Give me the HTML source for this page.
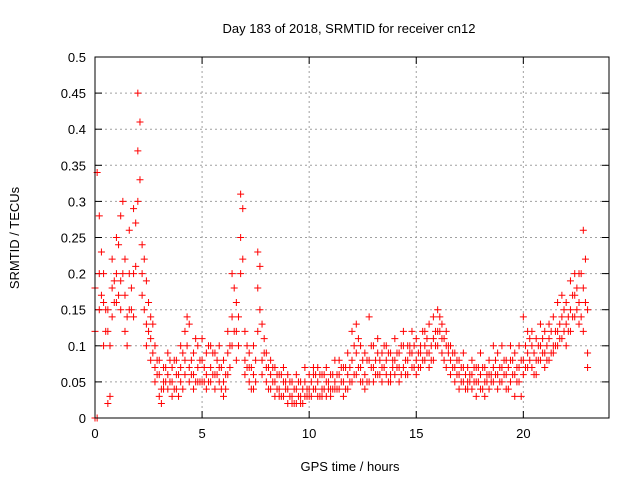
<!DOCTYPE html>
<html><head><meta charset="utf-8"><style>
body{margin:0;background:#fff;}
svg text{font-family:"Liberation Sans",sans-serif;font-size:13px;fill:#000;}
</style></head><body>
<svg id="chart" width="640" height="480" xmlns="http://www.w3.org/2000/svg">
<rect width="640" height="480" fill="#fff"/>
<text x="349" y="33" text-anchor="middle">Day 183 of 2018, SRMTID for receiver cn12</text>
<text transform="translate(19,238) rotate(-90)" text-anchor="middle">SRMTID / TECUs</text>
<text x="350" y="471" text-anchor="middle">GPS time / hours</text>
<g id="grid"></g>
<g id="ticks"></g>
<g id="marks"></g>
<rect x="95" y="57" width="514" height="361" fill="none" stroke="#000" stroke-width="1"/>
</svg>
<script>
const xTicks=[0,5,10,15,20];
const yTicks=[0,0.05,0.1,0.15,0.2,0.25,0.3,0.35,0.4,0.45,0.5];
const yTickLabels=["0","0.05","0.1","0.15","0.2","0.25","0.3","0.35","0.4","0.45","0.5"];
const times=[0,0.2,0.4,0.6,0.8,1,1.2,1.4,1.6,1.8,2,2.2,2.4,2.6,2.8,3,3.2,3.4,3.6,3.8,4,4.2,4.4,4.6,4.8,5,5.2,5.4,5.6,5.8,6,6.2,6.4,6.6,6.8,7,7.2,7.4,7.6,7.8,8,8.2,8.4,8.6,8.8,9,9.2,9.4,9.6,9.8,10,10.2,10.4,10.6,10.8,11,11.2,11.4,11.6,11.8,12,12.2,12.4,12.6,12.8,13,13.2,13.4,13.6,13.8,14,14.2,14.4,14.6,14.8,15,15.2,15.4,15.6,15.8,16,16.2,16.4,16.6,16.8,17,17.2,17.4,17.6,17.8,18,18.2,18.4,18.6,18.8,19,19.2,19.4,19.6,19.8,20,20.2,20.4,20.6,20.8,21,21.2,21.4,21.6,21.8,22,22.2,22.4,22.6,22.8,23];
const seriesA=[0.0,0.28,0.2,0.02,0.22,0.2,0.28,0.17,0.15,0.29,0.45,0.24,0.13,0.14,0.07,0.06,0.05,0.06,0.05,0.06,0.05,0.12,0.13,0.06,0.07,0.08,0.06,0.07,0.09,0.1,0.05,0.12,0.2,0.16,0.31,0.12,0.09,0.06,0.23,0.13,0.09,0.06,0.05,0.04,0.05,0.04,0.03,0.04,0.03,0.05,0.04,0.06,0.05,0.04,0.05,0.04,0.05,0.06,0.05,0.06,0.05,0.13,0.07,0.06,0.08,0.07,0.09,0.07,0.08,0.06,0.08,0.07,0.1,0.08,0.09,0.08,0.1,0.12,0.09,0.11,0.15,0.13,0.1,0.08,0.07,0.06,0.07,0.05,0.06,0.05,0.06,0.05,0.06,0.07,0.06,0.07,0.06,0.08,0.06,0.07,0.14,0.09,0.1,0.08,0.1,0.12,0.11,0.1,0.12,0.14,0.13,0.15,0.2,0.16,0.26,0.15];
const seriesB=[0.18,0.15,0.1,0.15,0.18,0.25,0.15,0.22,0.2,0.2,0.37,0.17,0.19,0.08,0.1,0.03,0.07,0.09,0.07,0.08,0.07,0.06,0.05,0.09,0.05,0.05,0.09,0.05,0.06,0.07,0.08,0.09,0.14,0.12,0.25,0.08,0.05,0.1,0.18,0.08,0.05,0.04,0.07,0.06,0.03,0.02,0.05,0.02,0.05,0.03,0.06,0.04,0.03,0.06,0.03,0.06,0.08,0.04,0.07,0.04,0.08,0.06,0.05,0.09,0.14,0.1,0.06,0.05,0.06,0.09,0.11,0.09,0.07,0.06,0.07,0.11,0.07,0.08,0.13,0.08,0.1,0.09,0.07,0.06,0.05,0.04,0.05,0.07,0.08,0.07,0.04,0.07,0.08,0.05,0.09,0.05,0.08,0.05,0.09,0.05,0.08,0.12,0.07,0.11,0.13,0.09,0.08,0.14,0.16,0.11,0.1,0.12,0.14,0.13,0.18,0.09];
const seriesC=[0.12,0.2,0.16,0.12,0.14,0.16,0.19,0.12,0.26,0.14,0.3,0.2,0.1,0.11,0.05,0.08,0.04,0.04,0.03,0.04,0.1,0.08,0.07,0.04,0.1,0.11,0.04,0.1,0.04,0.05,0.03,0.06,0.1,0.08,0.2,0.06,0.07,0.04,0.12,0.06,0.07,0.08,0.03,0.03,0.07,0.06,0.02,0.06,0.02,0.07,0.03,0.07,0.07,0.03,0.07,0.03,0.04,0.08,0.03,0.09,0.12,0.09,0.1,0.04,0.05,0.05,0.11,0.09,0.1,0.05,0.06,0.05,0.12,0.1,0.12,0.06,0.09,0.1,0.07,0.14,0.12,0.11,0.12,0.1,0.09,0.08,0.09,0.04,0.04,0.03,0.09,0.03,0.04,0.1,0.04,0.1,0.04,0.1,0.03,0.1,0.06,0.07,0.12,0.06,0.08,0.07,0.13,0.09,0.1,0.17,0.16,0.19,0.17,0.2,0.12,0.07];
const times2=[0.1,0.3,0.5,0.7,0.9,1.1,1.3,1.5,1.7,1.9,2.1,2.3,2.5,2.7,2.9,3.1,3.3,3.5,3.7,3.9,4.1,4.3,4.5,4.7,4.9,5.1,5.3,5.5,5.7,5.9,6.1,6.3,6.5,6.7,6.9,7.1,7.3,7.5,7.7,7.9,8.1,8.3,8.5,8.7,8.9,9.1,9.3,9.5,9.7,9.9,10.1,10.3,10.5,10.7,10.9,11.1,11.3,11.5,11.7,11.9,12.1,12.3,12.5,12.7,12.9,13.1,13.3,13.5,13.7,13.9,14.1,14.3,14.5,14.7,14.9,15.1,15.3,15.5,15.7,15.9,16.1,16.3,16.5,16.7,16.9,17.1,17.3,17.5,17.7,17.9,18.1,18.3,18.5,18.7,18.9,19.1,19.3,19.5,19.7,19.9,20.1,20.3,20.5,20.7,20.9,21.1,21.3,21.5,21.7,21.9,22.1,22.3,22.5,22.7,22.9];
const seriesD=[0.34,0.23,0.15,0.03,0.19, 0.24,0.3,0.14,0.18,0.21, 0.41,0.22,0.16,0.09,0.06, 0.04,0.07,0.05,0.08,0.03, 0.09,0.14,0.06,0.05,0.08, 0.07,0.1,0.06,0.08,0.04, 0.06,0.1,0.18,0.14,0.29, 0.1,0.07,0.05,0.21,0.09, 0.07,0.05,0.04,0.06,0.04, 0.03,0.04,0.03,0.02,0.04, 0.05,0.04,0.06,0.04,0.05, 0.04,0.06,0.05,0.07,0.05, 0.1,0.07,0.08,0.05,0.07, 0.08,0.06,0.07,0.09,0.07, 0.09,0.06,0.08,0.1,0.07, 0.09,0.08,0.11,0.1,0.12, 0.12,0.11,0.09,0.07,0.08, 0.05,0.06,0.06,0.05,0.07, 0.07,0.05,0.06,0.08,0.05, 0.06,0.07,0.08,0.05,0.08, 0.1,0.08,0.09,0.1,0.09, 0.1,0.09,0.12,0.13,0.12, 0.14,0.17,0.18,0.2,0.22];
const seriesE=[0.0,0.17,0.12,0.1,0.16, 0.17,0.2,0.1,0.15,0.27, 0.33,0.15,0.12,0.13,0.08, 0.02,0.05,0.08,0.04,0.06, 0.04,0.1,0.08,0.11,0.05, 0.05,0.05,0.09,0.06,0.07, 0.04,0.07,0.12,0.1,0.22, 0.07,0.04,0.08,0.15,0.11, 0.04,0.07,0.06,0.03,0.05, 0.05,0.02,0.05,0.04,0.03, 0.03,0.06,0.03,0.06,0.04, 0.06,0.04,0.07,0.04,0.07, 0.06,0.11,0.05,0.08,0.1, 0.06,0.08,0.1,0.05,0.08, 0.07,0.1,0.06,0.09,0.1, 0.07,0.12,0.09,0.08,0.1, 0.14,0.08,0.1,0.09,0.06, 0.07,0.04,0.05,0.07,0.05, 0.04,0.06,0.05,0.06,0.07, 0.08,0.04,0.06,0.07,0.03, 0.07,0.11,0.06,0.08,0.11, 0.08,0.12,0.1,0.11,0.15, 0.12,0.14,0.15,0.14,0.16];
const X0=95,X1=609,Y0=418,Y1=57,XMAX=24,YMAX=0.5;
function xs(t){return X0+(X1-X0)*t/XMAX;}
function ys(v){return Y0-(Y0-Y1)*v/YMAX;}
const NS="http://www.w3.org/2000/svg";
const grid=document.getElementById('grid'),ticks=document.getElementById('ticks'),marks=document.getElementById('marks');
function mk(tag,attrs,parent){const e=document.createElementNS(NS,tag);for(const k in attrs)e.setAttribute(k,attrs[k]);parent.appendChild(e);return e;}
yTicks.forEach((v,i)=>{const y=ys(v);
 if(i>0&&i<yTicks.length-1){const g=mk('line',{x1:X0,x2:X1,y1:y,y2:y,stroke:'#a0a0a0','stroke-dasharray':'2,3'},grid);}
 mk('line',{x1:X0,x2:X0+7,y1:y,y2:y,stroke:'#000'},ticks);mk('line',{x1:X1,x2:X1-7,y1:y,y2:y,stroke:'#000'},ticks);
 const t=mk('text',{x:X0-9,y:y+5,'text-anchor':'end'},ticks);t.textContent=yTickLabels[i];
 
 });
xTicks.forEach(v=>{const x=xs(v);
 if(v>0){const g=mk('line',{x1:x,x2:x,y1:Y0,y2:Y1,stroke:'#a0a0a0','stroke-dasharray':'2,3'},grid);}
 mk('line',{x1:x,x2:x,y1:Y0,y2:Y0-7,stroke:'#000'},ticks);mk('line',{x1:x,x2:x,y1:Y1,y2:Y1+7,stroke:'#000'},ticks);
 const t=mk('text',{x:x,y:Y0+20,'text-anchor':'middle'},ticks);t.textContent=String(v);
 
 });
let d='';
function addSeries(tt,s){s.forEach((v,i)=>{const x=xs(tt[i]),y=ys(v);d+=`M${x-3.5},${y}h7M${x},${y-3.5}v7`;});}
addSeries(times,seriesA);addSeries(times,seriesB);addSeries(times,seriesC);
addSeries(times2,seriesD);addSeries(times2,seriesE);
const p=mk('path',{d:d,stroke:'#f00','stroke-width':1,fill:'none'},marks);


</script>
</body></html>
